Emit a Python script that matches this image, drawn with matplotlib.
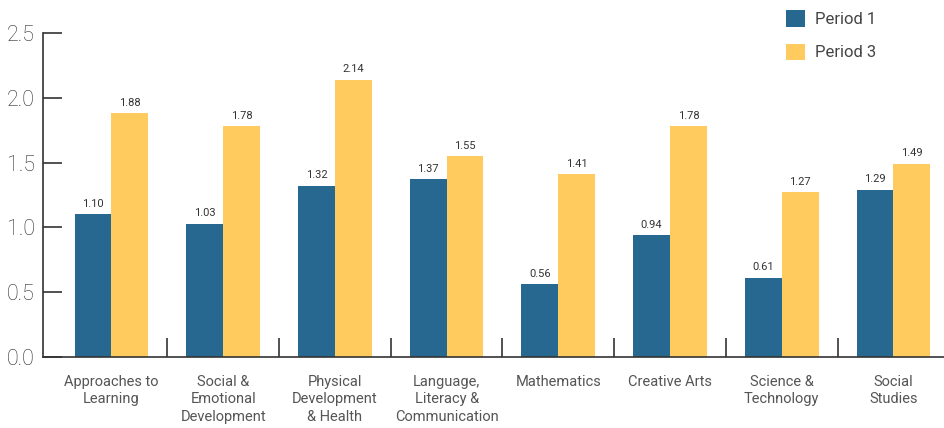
import numpy as np
import matplotlib
matplotlib.use("Agg")
import matplotlib.pyplot as plt

# Data
categories = ["Approaches to\nLearning", "Social &\nEmotional\nDevelopment",
              "Physical\nDevelopment\n& Health", "Language,\nLiteracy &\nCommunication",
              "Mathematics", "Creative Arts", "Science &\nTechnology", "Social\nStudies"]
period1 = [1.10, 1.03, 1.32, 1.37, 0.56, 0.94, 0.61, 1.29]
period3 = [1.88, 1.78, 2.14, 1.55, 1.41, 1.78, 1.27, 1.49]
series_names = ["Period 1", "Period 3"]

blue = "#276890"
yellow = "#FFCB5F"
axis_col = "#333333"

plt.rcParams['font.family'] = ['Roboto', 'DejaVu Sans']

fig = plt.figure(figsize=(9.44, 4.28), dpi=100)
ax = fig.add_axes([43 / 944, 71 / 428, 1 - 43 / 944, (357 - 33) / 428])

x = np.arange(len(categories))
w = 0.33
b1 = ax.bar(x - w / 2, period1, w, color=blue, label=series_names[0])
b3 = ax.bar(x + w / 2, period3, w, color=yellow, label=series_names[1])

for bars in (b1, b3):
    for rect in bars:
        ax.annotate(f"{rect.get_height():.2f}",
                    (rect.get_x() + rect.get_width() / 2, rect.get_height()),
                    xytext=(0, 4), textcoords="offset points",
                    ha="center", va="bottom", fontsize=8, color="#333333")

ax.set_xlim(-0.613, 7.453)
ax.set_ylim(0, 2.5)
ax.set_yticks([0, 0.5, 1.0, 1.5, 2.0, 2.5])
ax.set_yticklabels([f"{v:.1f}" for v in [0, 0.5, 1.0, 1.5, 2.0, 2.5]], fontweight="light")
ax.tick_params(axis="y", direction="in", length=14, width=1.2, color=axis_col,
               labelsize=15.5, labelcolor="#2e2e2e", pad=6)

ax.set_xticks(x)
ax.set_xticklabels(categories, fontsize=10.5, color="#555555", linespacing=1.3)
ax.tick_params(axis="x", which="major", length=0, pad=13)
ax.set_xticks(np.arange(0.5, 7, 1), minor=True)
ax.tick_params(axis="x", which="minor", direction="in", length=14, width=1.2, color=axis_col)

for s in ["top", "right"]:
    ax.spines[s].set_visible(False)
for s in ["left", "bottom"]:
    ax.spines[s].set_color(axis_col)
    ax.spines[s].set_linewidth(1.2)

fig.legend(loc="upper left", bbox_to_anchor=(771 / 944, 1 + 5 / 428), frameon=False,
           fontsize=12, handlelength=1.15, handleheight=1.15, labelspacing=1.0,
           handletextpad=0.6, labelcolor="#444444")

fig.savefig("out.png", dpi=100)
